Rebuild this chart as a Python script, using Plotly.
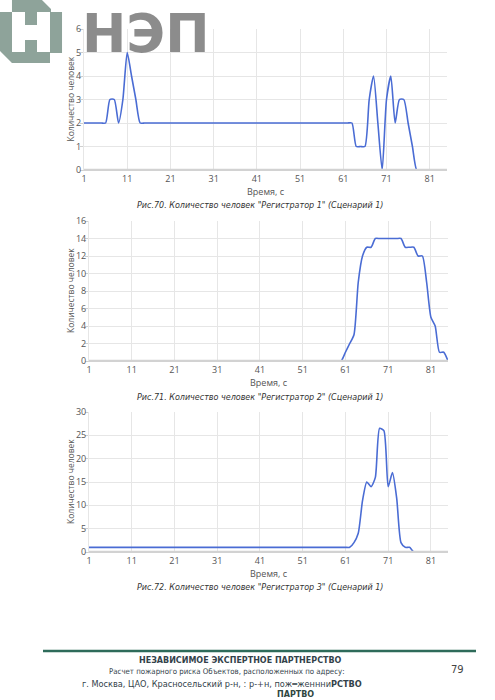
import plotly.graph_objects as go

W, H = 495, 700

# time axis, seconds
time_s = list(range(1, 86))

# "Регистратор 1"
reg1 = [2, 2, 2, 2, 2, 2, 3, 3, 2, 3,
        5, 4, 3, 2, 2, 2, 2, 2, 2, 2,
        2, 2, 2, 2, 2, 2, 2, 2, 2, 2,
        2, 2, 2, 2, 2, 2, 2, 2, 2, 2,
        2, 2, 2, 2, 2, 2, 2, 2, 2, 2,
        2, 2, 2, 2, 2, 2, 2, 2, 2, 2,
        2, 2, 2, 1, 1, 1, 3, 4, 2, 0,
        3, 4, 2, 3, 3, 2, 1, 0, 0, 0,
        0, 0, 0, 0, 0]

# "Регистратор 2"
reg2 = [0, 0, 0, 0, 0, 0, 0, 0, 0, 0,
        0, 0, 0, 0, 0, 0, 0, 0, 0, 0,
        0, 0, 0, 0, 0, 0, 0, 0, 0, 0,
        0, 0, 0, 0, 0, 0, 0, 0, 0, 0,
        0, 0, 0, 0, 0, 0, 0, 0, 0, 0,
        0, 0, 0, 0, 0, 0, 0, 0, 0, 0,
        1, 2, 3, 9, 12, 13, 13, 14, 14, 14,
        14, 14, 14, 14, 13, 13, 13, 12, 12, 9,
        5, 4, 1, 1, 0]

# "Регистратор 3"
reg3 = [1, 1, 1, 1, 1, 1, 1, 1, 1, 1,
        1, 1, 1, 1, 1, 1, 1, 1, 1, 1,
        1, 1, 1, 1, 1, 1, 1, 1, 1, 1,
        1, 1, 1, 1, 1, 1, 1, 1, 1, 1,
        1, 1, 1, 1, 1, 1, 1, 1, 1, 1,
        1, 1, 1, 1, 1, 1, 1, 1, 1, 1,
        1, 1, 2, 4, 11, 15, 14, 16, 26.5, 26,
        14, 17, 11.5, 2, 1, 1, 0, 0, 0, 0,
        0, 0, 0, 0, 0]

x_ticks = [1, 11, 21, 31, 41, 51, 61, 71, 81]
y_ranges = [[0, 6], [0, 16], [0, 30]]
y_dticks = [1, 2, 5]
captions = [
    'Рис.70. Количество человек "Регистратор 1" (Сценарий 1)',
    'Рис.71. Количество человек "Регистратор 2" (Сценарий 1)',
    'Рис.72. Количество человек "Регистратор 3" (Сценарий 1)',
]

LINE = "#4a6cd4"
GRID = "#e6e6e6"
TICK = "#555555"
FOOT = "#33424a"


def px_x(v):
    return v / W


def px_y(v):
    return 1 - v / H


def note(x, y, text, size, color="#333333", family="DejaVu Sans",
         xanchor="center", angle=0):
    fig.add_annotation(x=px_x(x), y=px_y(y), xref="paper", yref="paper",
                       xanchor=xanchor, yanchor="middle", showarrow=False,
                       textangle=angle, text=text, borderpad=0,
                       font=dict(family=family, size=size, color=color))


# plot areas in page pixels: (left, right, top, bottom)
areas = [(84, 447, 29, 170), (89, 448, 221, 361), (89, 448, 412, 552)]
caption_y = [205, 397, 587]

fig = go.Figure()
for i, series in enumerate([reg1, reg2, reg3]):
    n = "" if i == 0 else str(i + 1)
    fig.add_trace(go.Scatter(
        x=time_s, y=series, mode="lines",
        line=dict(color=LINE, width=1.6, shape="spline", smoothing=0.6),
        xaxis="x" + n, yaxis="y" + n, showlegend=False, hoverinfo="x+y",
    ))
    l, r, t, b = areas[i]
    fig.layout["xaxis" + n] = dict(
        domain=[px_x(l), px_x(r)], anchor="y" + n, range=[1, 85],
        automargin=False,
        tickvals=x_ticks, showgrid=True, gridcolor=GRID, gridwidth=1,
        zeroline=False, showline=True, linecolor="#d2d2d2", linewidth=1,
        tickfont=dict(family="Open Sans", size=9, color=TICK),
        title=dict(text="Время, с", standoff=2,
                   font=dict(family="Open Sans", size=9, color=TICK)),
    )
    fig.layout["yaxis" + n] = dict(
        domain=[px_y(b), px_y(t)], anchor="x" + n, range=y_ranges[i],
        automargin=False,
        dtick=y_dticks[i], showgrid=True, gridcolor=GRID, gridwidth=1,
        zeroline=False, showline=True, linecolor=GRID, linewidth=1,
        ticks="outside", ticklen=3, tickcolor="#cfcfcf",
        ticklabelstandoff=-3,
        tickfont=dict(family="Open Sans", size=9, color=TICK),
    )
    # baseline drawn over the trace
    fig.add_shape(type="line", xref="x" + n, yref="y" + n, layer="above",
                  x0=1, x1=85, y0=0, y1=0,
                  line=dict(color="#d2d2d2", width=2.5))
    note(70, (t + b) / 2, "Количество человек", 8.5, color=TICK,
         family="Open Sans", angle=-90)
    note(260, caption_y[i], "<i>" + captions[i] + "</i>", 8.0)

# logo
LOGO = "#8ea39a"
logo_pts = [(0, 12), (12, 12), (12, 0), (42, 0), (51, 9), (51, 12), (62, 12),
            (62, 53), (50, 53), (50, 63), (12, 63), (0, 51)]
path = "M " + " L ".join(f"{px_x(a):.4f},{px_y(b):.4f}" for a, b in logo_pts) + " Z"
fig.add_shape(type="path", path=path, xref="paper", yref="paper",
              fillcolor=LOGO, line=dict(width=0))
for x0, x1, y0, y1 in [(12, 25, 12, 52), (37, 50, 12, 52), (25, 37, 25, 40)]:
    fig.add_shape(type="rect", xref="paper", yref="paper",
                  x0=px_x(x0), x1=px_x(x1), y0=px_y(y1), y1=px_y(y0),
                  fillcolor="white", line=dict(width=0))
note(81, 33, "<b>НЭП</b>", 53, color="rgba(128,128,128,0.9)",
     family="DejaVu Sans", xanchor="left")

# footer
fig.add_shape(type="line", xref="paper", yref="paper",
              x0=px_x(43), x1=px_x(476), y0=px_y(651), y1=px_y(651),
              line=dict(color="#2e6b5a", width=2.5))
COND = "DejaVu Sans Condensed, DejaVu Sans"
note(240, 660, "<b>НЕЗАВИСИМОЕ ЭКСПЕРТНОЕ ПАРТНЕРСТВО</b>", 8, color=FOOT)
note(227, 671, "Расчет пожарного риска Объектов, расположенных по адресу:", 7.8,
     color=FOOT, family=COND)
note(222, 684, "г. Москва, ЦАО, Красносельский р-н, : р-+н, пож═женнни<b>РСТВО</b>",
     8.2, color=FOOT)
note(295, 694, "<b>ПАРТВО</b>", 8, color="#2f4640")
note(457, 669, "79", 10, color="#444444")

fig.update_layout(width=W, height=H, margin=dict(l=0, r=0, t=0, b=0, pad=0),
                  paper_bgcolor="white", plot_bgcolor="white")

fig.write_html("out.html", config={"displayModeBar": False},
               post_script="document.body.style.margin='0';")
